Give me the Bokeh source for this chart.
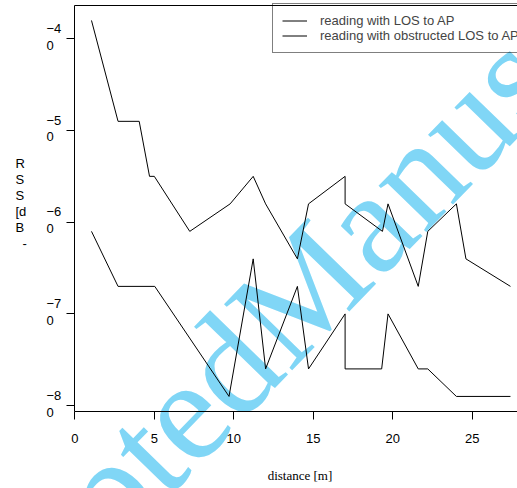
from bokeh.plotting import figure
from bokeh.models import (Label, FixedTicker, Legend, LegendItem, Range1d,
                          CustomJSTickFormatter, LinearAxis)
from bokeh.embed import file_html
from bokeh.resources import INLINE

# ---- data ----
dist_los = [1.05, 2.72, 4.05, 4.7, 5.0, 7.23, 9.77, 11.22, 12.0, 14.0, 14.7,
            17.0, 17.0, 19.35, 19.7, 21.6, 22.2, 24.0, 24.6, 27.4]
rss_los = [-38, -49, -49, -55, -55, -61, -58, -55, -58, -64, -58,
           -55, -58, -61, -58, -67, -61, -58, -64, -67]

dist_obs = [1.05, 2.72, 5.03, 9.7, 11.22, 12.0, 14.0, 14.7, 17.0, 17.0,
            19.3, 19.7, 21.6, 22.2, 24.0, 27.4]
rss_obs = [-61, -67, -67, -79, -64, -76, -67, -76, -70, -76,
           -76, -70, -76, -76, -79, -79]

series_labels = ["reading with LOS to AP", "reading with obstructed LOS to AP"]

xticks = [0, 5, 10, 15, 20, 25]
yticks = [-80, -70, -60, -50, -40]
ytick_top = ["\u22128", "\u22127", "\u22126", "\u22125", "\u22124"]
ytick_bottom = ["0", "0", "0", "0", "0"]
ylabel_lines = ["R", "S", "S", "[d", "B", "-"]
xlabel = "distance [m]"
watermark = "AcceptedManuscript"

# ---- page pixel -> data helpers (used only for placing texts / ranges) ----
X0_PAGE = 74.3
PX_X = 15.9
Y40_PAGE = 38.3
PX_Y = 9.17
W, H = 517, 488


def px2x(px):
    return (px - X0_PAGE) / PX_X


def py2y(py):
    return -40 - (py - Y40_PAGE) / PX_Y


frame_top = py2y(5)
frame_bottom = py2y(410.7)
x_end = px2x(W)

p = figure(width=W, height=H,
           x_range=Range1d(px2x(0), x_end), y_range=Range1d(py2y(H), py2y(0)),
           output_backend="svg", toolbar_location=None,
           min_border=0, min_border_left=0, min_border_right=0,
           min_border_top=0, min_border_bottom=0)
p.outline_line_color = None
p.grid.visible = False
p.background_fill_color = "white"
p.border_fill_color = "white"

FONT = "Liberation Sans"

# x axis
xa = p.xaxis[0]
xa.fixed_location = frame_bottom
xa.bounds = (0, x_end)
xa.ticker = FixedTicker(ticks=xticks)
xa.major_tick_out = 8
xa.major_tick_in = 0
xa.minor_tick_line_color = None
xa.axis_line_color = "black"
xa.axis_line_width = 1
xa.major_tick_line_color = "black"
xa.major_label_text_font = FONT
xa.major_label_text_font_size = "13px"
xa.major_label_text_color = "black"
xa.major_label_standoff = 15

# y axis (ticks only, labels drawn wrapped below)
ya = p.yaxis[0]
ya.fixed_location = 0
ya.bounds = (frame_bottom, frame_top)
ya.ticker = FixedTicker(ticks=yticks)
ya.major_tick_out = 8
ya.major_tick_in = 0
ya.minor_tick_line_color = None
ya.axis_line_color = "black"
ya.major_tick_line_color = "black"
ya.formatter = CustomJSTickFormatter(code="return ''")
ya.major_label_standoff = 0

# top side of the box
top = LinearAxis(fixed_location=frame_top, bounds=(0, x_end),
                 ticker=FixedTicker(ticks=[]),
                 formatter=CustomJSTickFormatter(code="return ''"),
                 major_tick_line_color=None, minor_tick_line_color=None,
                 axis_line_color="black", major_label_standoff=0)
p.add_layout(top, "above")

# watermark
p.add_layout(Label(x=px2x(293), y=py2y(298), text=watermark, angle=0.80,
                   text_align="center", text_baseline="middle",
                   text_font="Liberation Serif", text_font_size="145px",
                   text_font_style="normal",
                   text_color="#80d6f6", level="underlay"))

r1 = p.line(dist_los, rss_los, line_color="black", line_width=1)
r2 = p.line(dist_obs, rss_obs, line_color="black", line_width=1)

# y tick labels (wrapped into two lines as in the reference)
for v, t, b in zip(yticks, ytick_top, ytick_bottom):
    p.add_layout(Label(x=px2x(46), y=v, y_offset=10.3, text=t, text_align="left",
                       text_baseline="middle", text_font=FONT, text_font_size="13px",
                       text_font_style="normal", text_color="black"))
    p.add_layout(Label(x=px2x(46), y=v, y_offset=-6.4, text=b, text_align="left",
                       text_baseline="middle", text_font=FONT, text_font_size="13px",
                       text_font_style="normal", text_color="black"))

# y axis label (wrapped letter by letter)
for i, t in enumerate(ylabel_lines):
    xx = 15 if t != "-" else 22
    p.add_layout(Label(x=px2x(xx), y=py2y(162.7 + 16 * i), text=t, text_align="left",
                       text_baseline="middle", text_font=FONT, text_font_size="13px",
                       text_font_style="normal", text_color="black"))

# x axis label
p.add_layout(Label(x=px2x(299.5), y=py2y(475), text=xlabel, text_align="center",
                   text_baseline="middle", text_font="Liberation Serif",
                   text_font_size="13px", text_font_style="normal", text_color="black"))

legend = Legend(items=[LegendItem(label=series_labels[0], renderers=[r1]),
                       LegendItem(label=series_labels[1], renderers=[r2])],
                location=(272, H - 5 - 48), padding=9, spacing=0,
                glyph_width=25, glyph_height=15, label_height=15, label_standoff=13,
                label_text_font=FONT, label_text_font_size="13px",
                border_line_color="black", border_line_width=1,
                background_fill_alpha=0, margin=0)
p.add_layout(legend)

open("out.html", "w").write(file_html(p, INLINE))
